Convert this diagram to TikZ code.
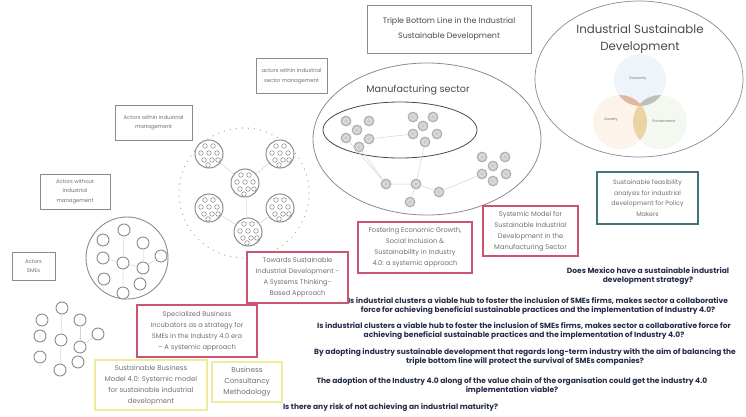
\documentclass[tikz,border=0pt]{standalone}
\usepackage{fontspec}
\setmainfont{Poppins}
\usetikzlibrary{calc}

\definecolor{linegray}{HTML}{8C8C8C}
\definecolor{textgray}{HTML}{707070}
\definecolor{headgray}{HTML}{4A4A4A}
\definecolor{redline}{HTML}{C9566E}
\definecolor{yellowline}{HTML}{EEEC9C}
\definecolor{tealline}{HTML}{44727F}
\definecolor{navy}{HTML}{262C4A}
\definecolor{dotgreen}{HTML}{A3B09A}
\definecolor{netline}{HTML}{D4D4D4}
\definecolor{balldraw}{HTML}{9E9E9E}
\definecolor{ballfill}{HTML}{CBCBCB}
\definecolor{vennblue}{HTML}{C9DDF0}
\definecolor{vennorange}{HTML}{F7D9C0}
\definecolor{venngreen}{HTML}{D8EBCF}
\definecolor{leafbrown}{HTML}{D9A88C}
\definecolor{leafgray}{HTML}{AEB2AC}
\definecolor{leaftan}{HTML}{E8CB8E}

\newcommand{\setfs}[2]{\fontsize{#1}{#2}\selectfont}

\begin{document}
\begin{tikzpicture}[x=1pt,y=-1pt,
  every node/.style={inner sep=0pt,outer sep=0pt},
  greybox/.style={draw=linegray,line width=0.7pt,fill=white,text=textgray,align=center,font=\setfs{5.3}{9.5}},
  redbox/.style={draw=redline,line width=1.3pt,fill=white,text=textgray,align=center,font=\setfs{6.7}{11}},
  yellowbox/.style={draw=yellowline,line width=1.4pt,fill=white,text=textgray,align=center,font=\setfs{6.9}{11}},
  tealbox/.style={draw=tealline,line width=1.1pt,fill=white,text=textgray,align=center,font=\setfs{6.3}{10.5}},
  question/.style={text=navy,align=center,font=\bfseries\setfs{7.5}{9.8}},
  ring/.style={circle,draw=linegray,line width=0.9pt,minimum size=12pt,fill=white},
  hub/.style={circle,draw=linegray,line width=1pt,minimum size=28pt,fill=white},
  ball/.style={circle,draw=balldraw,fill=ballfill,line width=0.6pt,minimum size=10pt},
  web/.style={draw=netline,line width=0.5pt},
  venntext/.style={text=textgray,font=\setfs{3.6}{4}},
]
\useasboundingbox (0,0) rectangle (746,417);
\fill[white] (0,0) rectangle (746,417);

% ---------- research questions ----------
\node[question] (q0) at (648,276) {Does Mexico have a sustainable industrial\\development strategy?};
\node[question] (q1) at (538,306) {Is industrial clusters a viable hub to foster the inclusion of SMEs firms, makes sector a collaborative\\force for achieving beneficial sustainable practices and the implementation of Industry 4.0?};
\node[question] (q2) at (524,331) {Is industrial clusters a viable hub to foster the inclusion of SMEs firms, makes sector a collaborative force for\\achieving beneficial sustainable practices and the implementation of Industry 4.0?};
\node[question] (q3) at (525,357) {By adopting industry sustainable development that regards long-term industry with the aim of balancing the\\triple bottom line will protect the survival of SMEs companies?};
\node[question] (q4) at (512,386) {The adoption of the Industry 4.0 along of the value chain of the organisation could get the industry 4.0\\implementation viable?};
\node[question,anchor=west] (q5) at (283,408) {Is there any risk of not achieving an industrial maturity?};

% ---------- title box ----------
\node[greybox,minimum width=164pt,minimum height=48pt,font=\setfs{7.9}{15.5},text=headgray] (title) at (449,29)
  {Triple Bottom Line in the Industrial\\Sustainable Development};

% ---------- industrial sustainable development ----------
\draw[linegray,line width=0.7pt] (639,79) ellipse [x radius=104pt,y radius=78pt];
\node[text=headgray,align=center,font=\setfs{11.8}{17}] (isd) at (640,39) {Industrial Sustainable\\Development};
\fill[vennblue,fill opacity=0.3] (640,80) circle (26pt);
\fill[vennorange,fill opacity=0.3] (620,122) circle (27pt);
\fill[venngreen,fill opacity=0.3] (660,122) circle (27pt);
\begin{scope}
  \clip (640,80) circle (26pt);
  \fill[leafbrown,fill opacity=0.75] (620,122) circle (27pt);
  \fill[leafgray,fill opacity=0.75] (660,122) circle (27pt);
\end{scope}
\begin{scope}
  \clip (620,122) circle (27pt);
  \fill[leaftan,fill opacity=0.75] (660,122) circle (27pt);
\end{scope}
\node[venntext] (economy) at (638,79) {Economy};
\node[venntext] (society) at (611,120) {Society};
\node[venntext] (environment) at (664,121) {Environment};

% ---------- manufacturing sector ----------
\draw[linegray,line width=0.8pt] (427,139) ellipse [x radius=114pt,y radius=76pt];
\draw[headgray,line width=0.8pt] (400,130) ellipse [x radius=77pt,y radius=28pt];
\node[text=headgray,font=\setfs{9.6}{11}] (mfg) at (418,90) {Manufacturing sector};

\foreach \n/\px/\py in {a1/346/121,a2/369/121,a3/357/130,a4/346/138,a5/369/139,a6/359/147,
  b1/413/117,b2/433/117,b3/423/126,b4/413/134,b5/437/134,b6/425/142,
  c1/482/157,c2/505/157,c3/493/166,c4/482/174,c5/506/174,c6/493/181,
  d1/386/184,d2/416/184,d3/439/192,d4/410/202}
  \node[ball] (\n) at (\px,\py) {};
\draw[web] (a6) -- (d1) -- (d2) -- (b6);
\draw[web] (d2) -- (d4);
\draw[web] (d2) -- (d3) -- (c4);
\draw[web] (a5) -- (b4);
\draw[web] (d1) -- (a4);
\foreach \n in {a1,a2,a3,a4,a5,a6,b1,b2,b3,b4,b5,b6,c1,c2,c3,c4,c5,c6,d1,d2,d3,d4}
  \draw[white!85!balldraw,line width=0.5pt] (\n) circle (2.4pt);

% ---------- industrial sector: clusters of hubs ----------
\draw[dotgreen,line width=1.3pt,dash pattern=on 0.1pt off 6pt,line cap=round] (244,193) circle (65pt);
\foreach \n/\px/\py in {h1/209/154,h2/280/154,h3/245/183,h4/209/208,h5/280/208,h6/248/232}
  \node[hub] (\n) at (\px,\py) {};
\draw[web] (h1) -- (h3) -- (h2);
\draw[web] (h3) -- (h6);
\draw[web] (h4) -- (h6) -- (h5);
\foreach \n in {h1,h2,h3,h4,h5,h6}
  \foreach \dx/\dy in {-4/-8,4/-8,-8/-1,0/-1,8/-1,-5/6,3/6,9/6,-1/11}
    \draw[linegray,line width=0.55pt] (\n) ++(\dx pt,-\dy pt) circle (2.3pt);

% ---------- actors without industrial management: network in a circle ----------
\draw[linegray,line width=0.9pt] (127,258) circle (41pt);
\foreach \n/\px/\py in {w1/124/230,w2/103/240,w3/143/243,w4/103/258,w5/123/263,
  w6/161/256,w7/143/268,w8/104/279,w9/140/284,w10/123/293}
  \node[ring] (\n) at (\px,\py) {};
\draw[web] (w1) -- (w5) -- (w10);
\draw[web] (w4) -- (w5) -- (w7);
\draw[web] (w3) -- (w7) -- (w9);
\draw[web] (w7) -- (w6);

% ---------- actors SMEs: loose network ----------
\foreach \n/\px/\py in {s1/62/308,s2/42/320,s3/80/320,s4/40/336,s5/61/340,
  s6/80/347,s7/98/334,s8/40/357,s9/78/362,s10/60/370}
  \node[ring] (\n) at (\px,\py) {};
\draw[web] (s1) -- (s5) -- (s10);
\draw[web] (s3) -- (s6);
\draw[web] (s6) -- (s7);

% ---------- actor boxes ----------
\node[greybox,minimum width=71pt,minimum height=35pt] (sectormgmt) at (291.5,76)
  {actors within industrial\\sector management};
\node[greybox,minimum width=77pt,minimum height=35pt] (withinmgmt) at (153.5,122.5)
  {Actors within industrial\\management};
\node[greybox,minimum width=70pt,minimum height=35pt] (withoutmgmt) at (75,191.5)
  {Actors without\\industrial\\management};
\node[greybox,minimum width=43pt,minimum height=28pt] (smes) at (33.5,266)
  {Actors\\SMEs};

% ---------- publication boxes ----------
\node[tealbox,minimum width=101pt,minimum height=52pt] (policy) at (647.5,198)
  {Sustainable feasibility\\analysis for industrial\\development for Policy\\Makers};
\node[redbox,minimum width=95pt,minimum height=50pt] (systemic) at (530.5,231)
  {Systemic Model for\\Sustainable Industrial\\Development in the\\Manufacturing Sector};
\node[redbox,minimum width=114pt,minimum height=51pt] (fostering) at (415,247.5)
  {Fostering Economic Growth,\\Social Inclusion \&\\Sustainability in Industry\\4.0: a systemic approach};
\node[redbox,minimum width=101pt,minimum height=51pt] (towards) at (297.5,277.5)
  {Towards Sustainable\\Industrial Development -\\A Systems Thinking-\\Based Approach};
\node[redbox,minimum width=120pt,minimum height=52pt] (incubators) at (197,331)
  {Specialized Business\\Incubators as a strategy for\\SMEs in the Industry 4.0 era\\– A systemic approach};
\node[yellowbox,minimum width=112pt,minimum height=50pt] (sbm) at (151,385)
  {Sustainable Business\\Model 4.0: Systemic model\\for sustainable industrial\\development};
\node[yellowbox,minimum width=70pt,minimum height=40pt,font=\setfs{7.2}{11}] (bcm) at (247,382)
  {Business\\Consultancy\\Methodology};
\end{tikzpicture}
\end{document}
